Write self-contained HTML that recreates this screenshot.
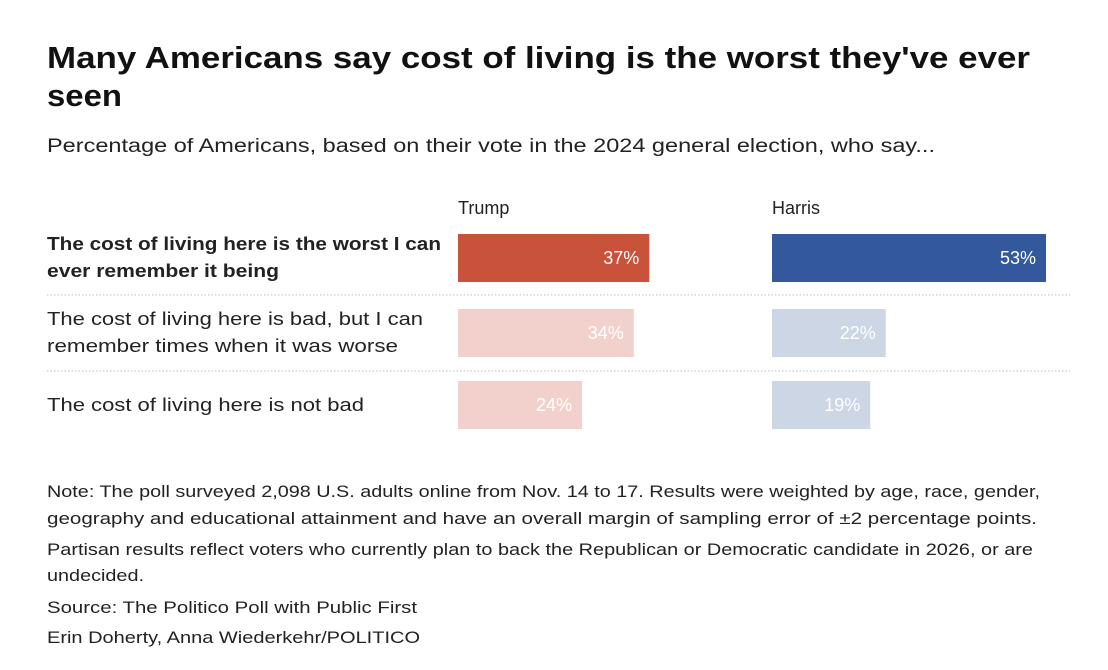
<!DOCTYPE html>
<html><head><meta charset="utf-8"><style>
html,body{margin:0;padding:0;background:#fff;}
svg{display:block;font-family:"Liberation Sans",sans-serif;}
</style></head><body>
<svg id="chart" width="1108" height="670" viewBox="0 0 1108 670">
<text x="47" y="68" font-size="31" font-weight="bold" fill="#111" textLength="983" lengthAdjust="spacingAndGlyphs">Many Americans say cost of living is the worst they've ever</text>
<text x="47" y="106" font-size="31" font-weight="bold" fill="#111" textLength="75" lengthAdjust="spacingAndGlyphs">seen</text>
<text x="47" y="152" font-size="19" fill="#222" textLength="888" lengthAdjust="spacingAndGlyphs">Percentage of Americans, based on their vote in the 2024 general election, who say...</text>
<text x="458" y="214" font-size="18" fill="#222">Trump</text>
<text x="772" y="214" font-size="18" fill="#222">Harris</text>
<g id="rows"></g>
<line x1="47" x2="1070" y1="295" y2="295" stroke="#bbb" stroke-dasharray="1.5,2"/>
<line x1="47" x2="1070" y1="371" y2="371" stroke="#bbb" stroke-dasharray="1.5,2"/>
<g font-size="16.5" fill="#222">
<text x="47" y="497" textLength="993" lengthAdjust="spacingAndGlyphs">Note: The poll surveyed 2,098 U.S. adults online from Nov. 14 to 17. Results were weighted by age, race, gender,</text>
<text x="47" y="524" textLength="990" lengthAdjust="spacingAndGlyphs">geography and educational attainment and have an overall margin of sampling error of ±2 percentage points.</text>
<text x="47" y="555" textLength="986" lengthAdjust="spacingAndGlyphs">Partisan results reflect voters who currently plan to back the Republican or Democratic candidate in 2026, or are</text>
<text x="47" y="581" textLength="97" lengthAdjust="spacingAndGlyphs">undecided.</text>
<text x="47" y="613" textLength="370" lengthAdjust="spacingAndGlyphs">Source: The Politico Poll with Public First</text>
<text x="47" y="643" textLength="373" lengthAdjust="spacingAndGlyphs">Erin Doherty, Anna Wiederkehr/POLITICO</text>
</g>
</svg>
<script>
const categories = ["The cost of living here is the worst I can|ever remember it being","The cost of living here is bad, but I can|remember times when it was worse","The cost of living here is not bad"];
const trumpValues = [37, 34, 24];
const harrisValues = [53, 22, 19];
const ns = "http://www.w3.org/2000/svg";
const g = document.getElementById("rows");
const pxPer = 5.17;
const xT = v => 458 + v * pxPer;
const xH = v => 772 + v * pxPer;
const rowTop = [234, 309, 381];
const labelW = [[394, 232], [376, 351], [317]];
function mk(tag, attrs){const e=document.createElementNS(ns,tag);for(const k in attrs)e.setAttribute(k,attrs[k]);g.appendChild(e);return e;}
categories.forEach((c,i)=>{
  const top=rowTop[i], h=48, first=i===0;
  const lines=c.split("|");
  lines.forEach((ln,j)=>{
    const y = lines.length===1 ? top+30 : top+16+j*27;
    const t=mk("text",{x:47,y:y,"font-size":18,"font-weight":first?"bold":"normal",fill:"#222",textLength:labelW[i][j],lengthAdjust:"spacingAndGlyphs"});
    
    
    t.textContent=ln;
  });
  [[trumpValues[i],xT,458,first?"#c9533a":"#f2d1cd","trump"],[harrisValues[i],xH,772,first?"#33599c":"#ccd6e5","harris"]].forEach(([v,fx,x0,col,nm])=>{
    const r=mk("rect",{x:x0,y:top,width:fx(v)-x0,height:h,fill:col});
    
    
    const t=mk("text",{x:fx(v)-10,y:top+30,"font-size":18,"text-anchor":"end",fill:"#fff"});
    
    
    t.textContent=v+"%";
  });
});
</script>
</body></html>
